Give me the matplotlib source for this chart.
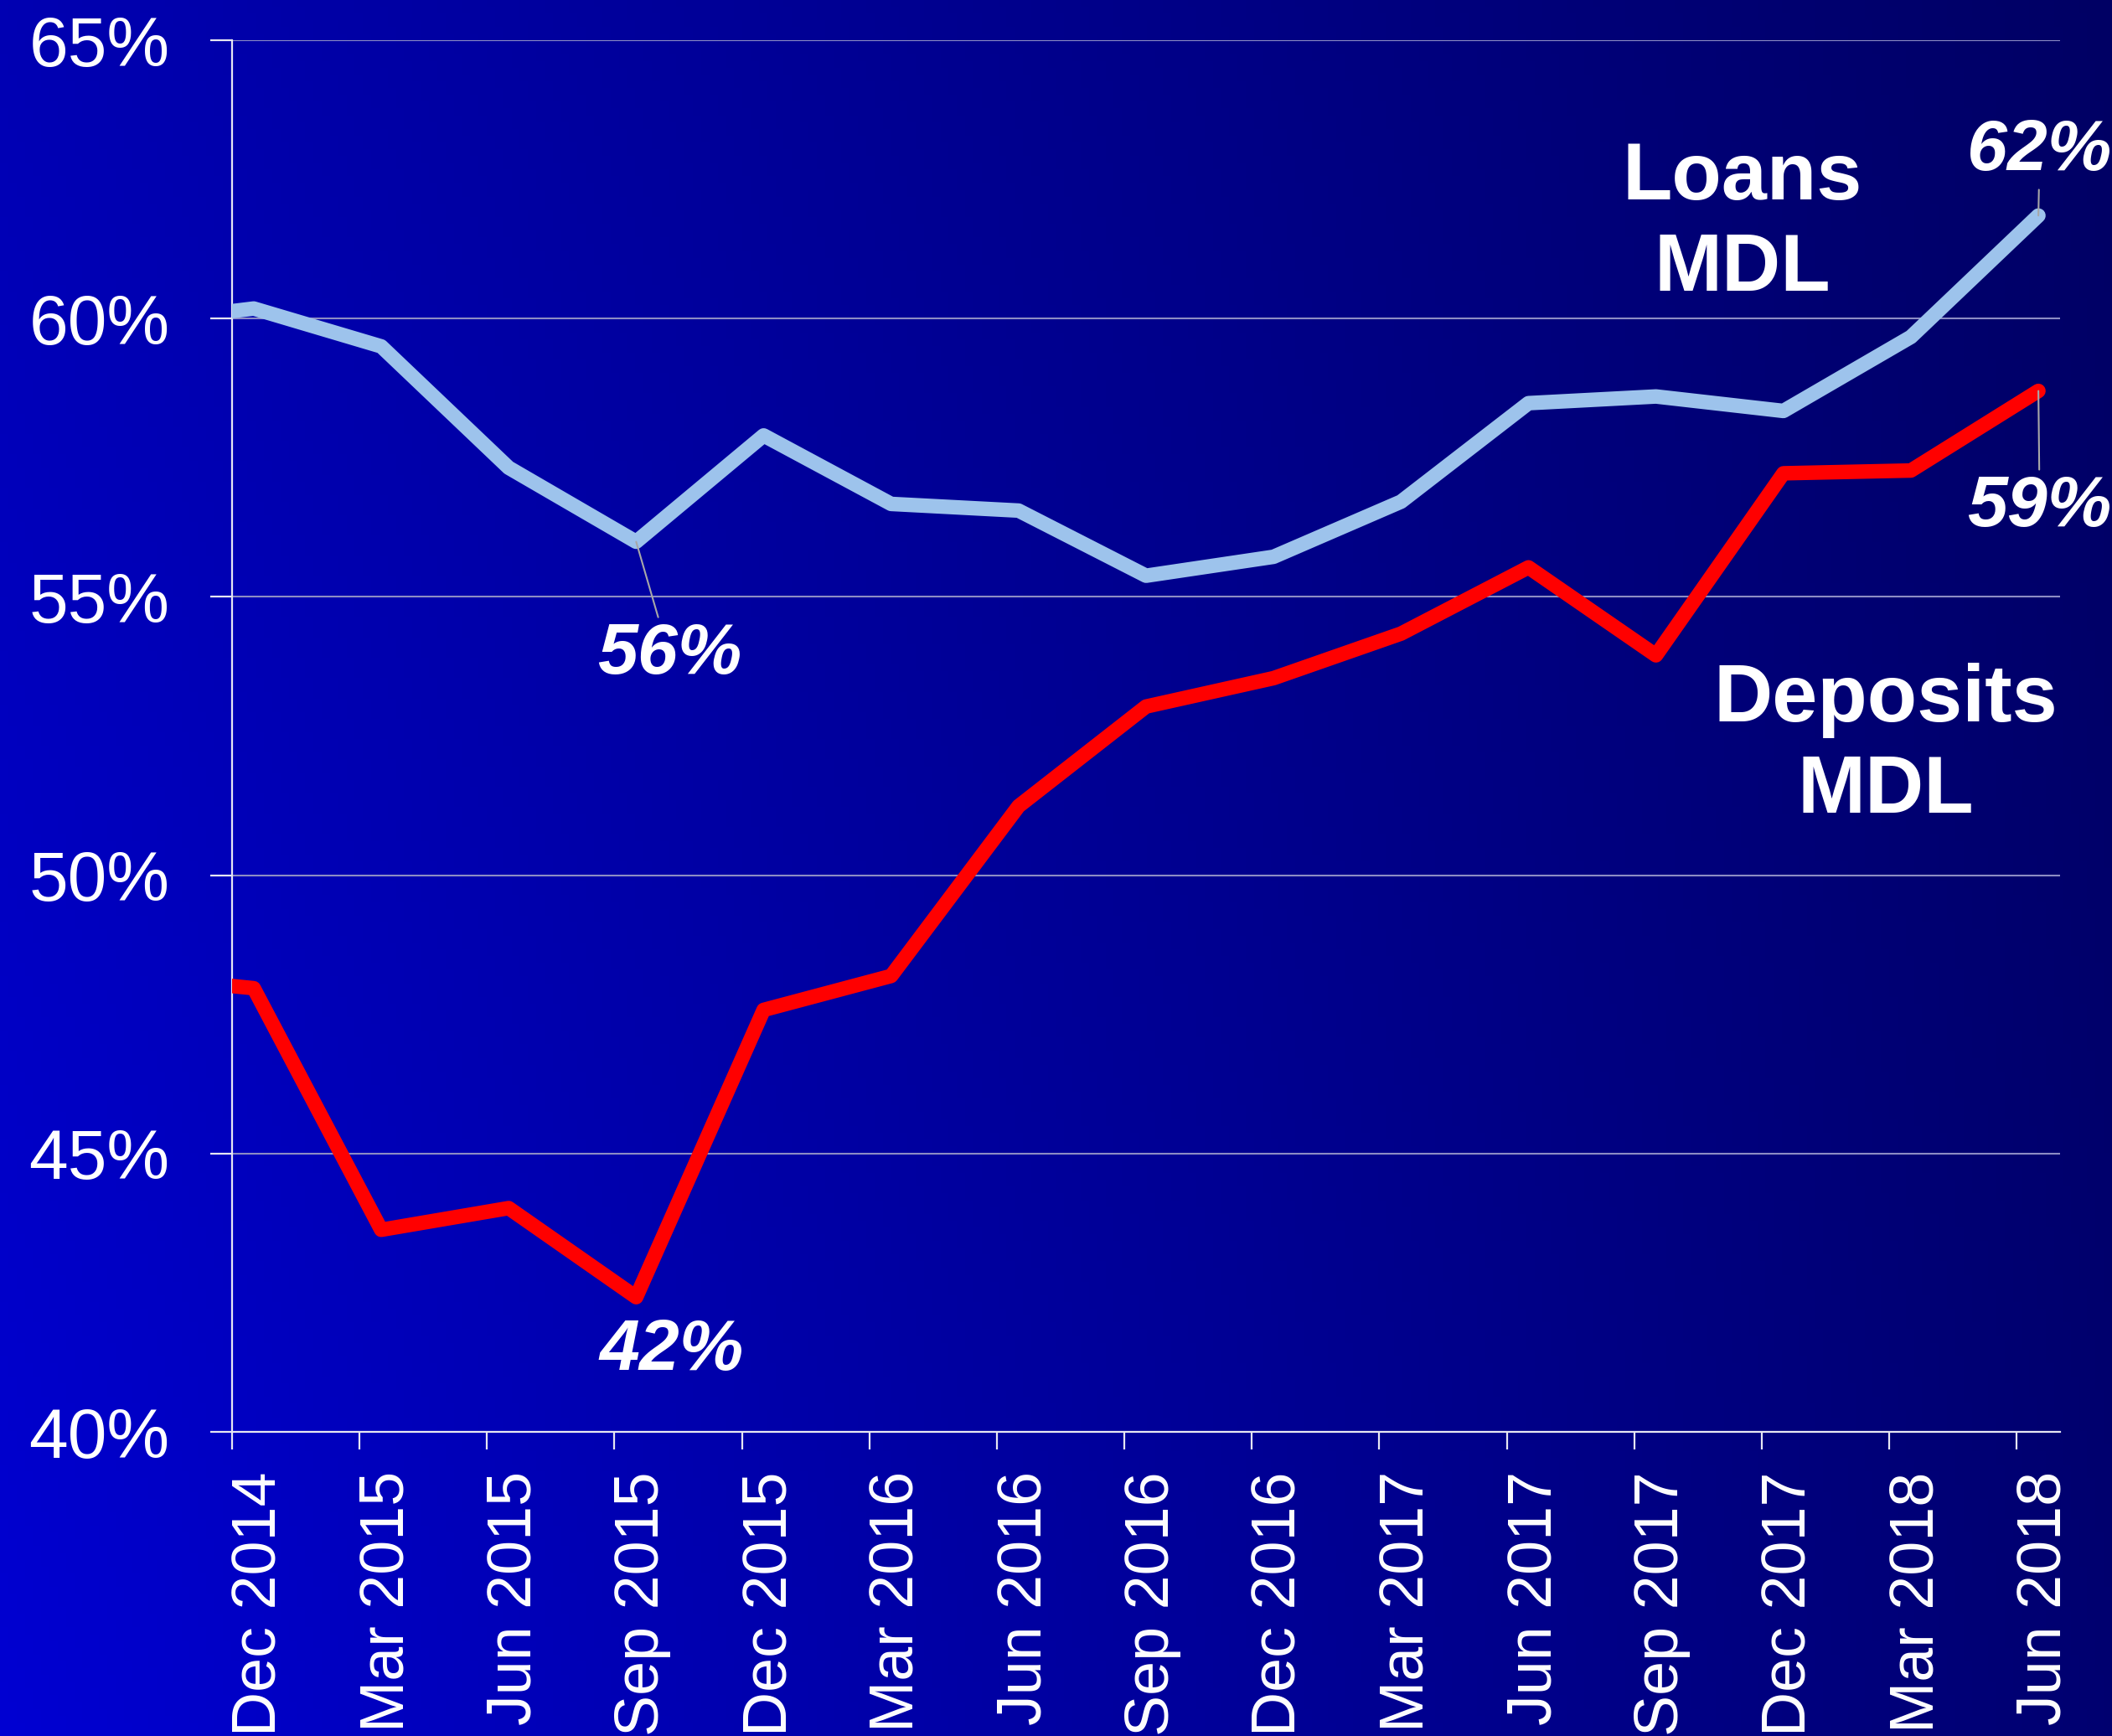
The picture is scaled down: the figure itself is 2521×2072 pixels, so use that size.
import numpy as np
import matplotlib
matplotlib.use("Agg")
import matplotlib.pyplot as plt
import matplotlib.transforms as mtransforms

plt.rcParams['font.family'] = ['Liberation Sans', 'DejaVu Sans']

# --- Data (share of MDL, %) ---
# first entry (Sep 2014) lies left of the visible range and is clipped by the axis
quarters = ['Sep 2014', 'Dec 2014', 'Mar 2015', 'Jun 2015', 'Sep 2015', 'Dec 2015',
            'Mar 2016', 'Jun 2016', 'Sep 2016', 'Dec 2016', 'Mar 2017', 'Jun 2017',
            'Sep 2017', 'Dec 2017', 'Mar 2018', 'Jun 2018']
loans_mdl = [59.9, 60.18, 59.50, 57.32, 55.99, 57.90, 56.67, 56.55, 55.38, 55.72,
             56.71, 58.48, 58.60, 58.34, 59.67, 61.85]
deposits_mdl = [48.2, 47.97, 43.63, 44.02, 42.42, 47.58, 48.19, 51.24, 53.03, 53.54,
                54.34, 55.53, 53.95, 57.22, 57.27, 58.70]
tick_labels = quarters[1:]

W, H, DPI = 2521, 2072, 100
fig = plt.figure(figsize=(W / DPI, H / DPI), dpi=DPI)

# --- gradient background: bright blue bottom-left -> navy top-right ---
bg = fig.add_axes([0, 0, 1, 1], zorder=-10)
gx = np.linspace(0, 1, 256)[None, :]
gy = np.linspace(0, 1, 256)[:, None]  # 0 = top, 1 = bottom
tl, tr, bl, br = 178, 100, 210, 112
blue = (tl * (1 - gx) * (1 - gy) + tr * gx * (1 - gy) + bl * (1 - gx) * gy + br * gx * gy) / 255
img = np.zeros((256, 256, 3))
img[..., 2] = blue
bg.imshow(img, aspect='auto', extent=[0, 1, 0, 1], origin='upper')
bg.set_axis_off()

ax = fig.add_axes([277 / W, 1 - 1709 / H, (2459 - 277) / W, (1709 - 48) / H])
ax.set_facecolor('none')

x = np.arange(len(quarters)) - 1 + 0.17
ax.plot(x, loans_mdl, color='#9DC3EC', lw=12.5, solid_capstyle='round',
        solid_joinstyle='round', zorder=3)
ax.plot(x, deposits_mdl, color='#FF0000', lw=12.5, solid_capstyle='round',
        solid_joinstyle='round', zorder=3)

ax.set_xlim(0, 14.34)
ax.set_ylim(40, 65)
ax.set_yticks(np.arange(40, 66, 5))
ax.set_yticklabels([f'{v}%' for v in range(40, 66, 5)])
ax.set_xticks(np.arange(len(tick_labels)))
ax.set_xticklabels(tick_labels, rotation=90, ha='left', va='top')

ax.grid(axis='y', color='#8C8CC4', lw=1.5, zorder=1)
ax.set_axisbelow(True)
for s in ['top', 'right']:
    ax.spines[s].set_visible(False)
for s in ['left', 'bottom']:
    ax.spines[s].set_color('#E6E6F2')
    ax.spines[s].set_linewidth(1.6)

ax.tick_params(axis='y', direction='out', length=18.5, width=1.6, color='#E6E6F2',
               labelcolor='white', labelsize=60.5, pad=35)
ax.tick_params(axis='x', direction='out', length=15, width=1.6, color='#E6E6F2',
               labelcolor='white', labelsize=53, pad=19)
shift = mtransforms.ScaledTranslation(-1 / 72, 0, fig.dpi_scale_trans)
for lab in ax.get_xticklabels():
    lab.set_transform(lab.get_transform() + shift)

# --- series labels ---
ax.text(11.85, 61.7, 'Loans\nMDL', color='white', fontsize=70, fontweight='bold',
        ha='center', va='center', linespacing=1.27)
ax.text(12.97, 52.32, 'Deposits\nMDL', color='white', fontsize=70, fontweight='bold',
        ha='center', va='center', linespacing=1.27)

# --- value call-outs ---
lead = dict(arrowstyle='-', color='#A8A8A8', lw=1.5, shrinkA=2, shrinkB=0)
callout = dict(color='white', fontsize=62, fontweight='bold', fontstyle='italic',
               ha='center', va='center', annotation_clip=False)
ax.annotate('56%', xy=(x[4], loans_mdl[4]), xytext=(3.43, 53.95),
            arrowprops=lead, **callout)
ax.annotate('42%', xy=(x[4], deposits_mdl[4]), xytext=(3.45, 41.45), **callout)
ax.annotate('62%', xy=(x[-1], loans_mdl[-1]), xytext=(14.18, 63.0),
            arrowprops=lead, **callout)
ax.annotate('59%', xy=(x[-1], deposits_mdl[-1]), xytext=(14.18, 56.6),
            arrowprops=lead, **callout)

fig.savefig('out.png', dpi=DPI)
